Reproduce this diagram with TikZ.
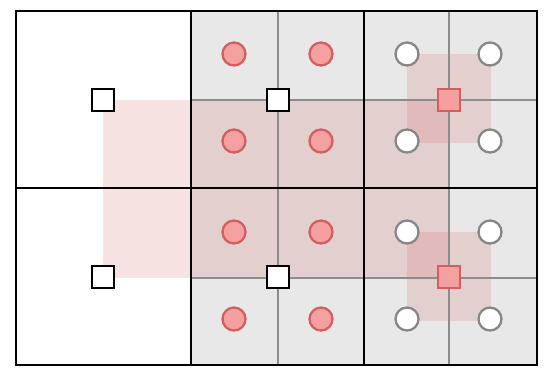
\documentclass[tikz,border=0pt]{standalone}
\begin{document}
\begin{tikzpicture}[x=0.02cm,y=-0.02cm,
  thickline/.style={line width=1.4pt,black},
  thinline/.style={line width=0.7pt,gray!90},
  pinkarea/.style={fill={rgb,255:red,215;green,110;blue,110},fill opacity=0.2,draw=none},
  redcirc/.style={circle,minimum size=0.46cm,inner sep=0pt,fill={rgb,255:red,245;green,160;blue,160},draw={rgb,255:red,210;green,95;blue,95},line width=1.3pt},
  whitecirc/.style={circle,minimum size=0.46cm,inner sep=0pt,fill=white,draw=gray!95,line width=1.3pt},
  blacksq/.style={rectangle,minimum size=0.43cm,inner sep=0pt,fill=white,draw=black,line width=1.3pt},
  redsq/.style={rectangle,minimum size=0.43cm,inner sep=0pt,fill={rgb,255:red,245;green,160;blue,160},draw={rgb,255:red,210;green,95;blue,95},line width=1.3pt}]
\useasboundingbox (0,0) rectangle (550,380);
% grey area
\fill[gray!18] (191,11) rectangle (537,365);
% receptive fields
\fill[pinkarea] (103,100) rectangle (449,278);
\fill[pinkarea] (407,54) rectangle (491,143);
\fill[pinkarea] (407,232) rectangle (491,321);
% fine grid
\draw[thinline] (278,11) -- (278,365);
\draw[thinline] (449,11) -- (449,365);
\draw[thinline] (191,100) -- (537,100);
\draw[thinline] (191,278) -- (537,278);
% coarse grid
\draw[thickline] (16,11) rectangle (537,365);
\draw[thickline] (191,11) -- (191,365);
\draw[thickline] (364,11) -- (364,365);
\draw[thickline] (16,188) -- (537,188);
% circles
\foreach \x/\n in {234/a,321/b} \foreach \y/\m in {54/1,141/2,232/3,319/4}
  \node[redcirc] (c\n\m) at (\x,\y) {};
\foreach \x/\n in {407/c,490/d} \foreach \y/\m in {54/1,141/2,232/3,319/4}
  \node[whitecirc] (c\n\m) at (\x,\y) {};
% squares
\node[blacksq] (s1) at (103,100) {};
\node[blacksq] (s2) at (278,100) {};
\node[blacksq] (s3) at (103,277) {};
\node[blacksq] (s4) at (278,277) {};
\node[redsq] (r1) at (449,100) {};
\node[redsq] (r2) at (449,277) {};
\end{tikzpicture}
\end{document}
